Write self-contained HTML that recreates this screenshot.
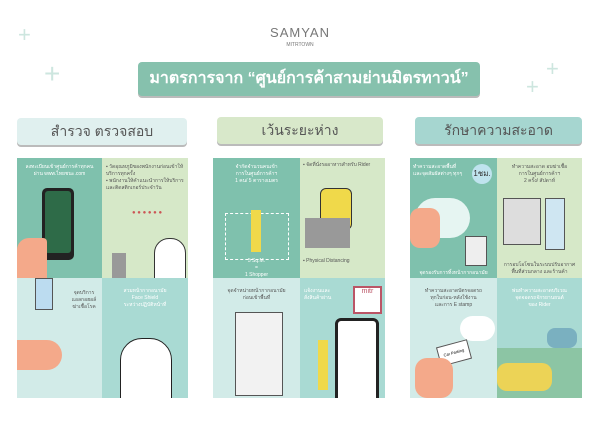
<!DOCTYPE html>
<html><head><meta charset="utf-8"><style>
body{margin:0;width:600px;height:424px;background:#fff;position:relative;overflow:hidden;font-family:"Liberation Sans","Noto Sans CJK SC",sans-serif}
.a{position:absolute}
.p{position:absolute;overflow:hidden}
.t{position:absolute;font-size:5px;color:#fff;text-align:center;line-height:7px}
.h{position:absolute;height:27px;border-radius:4px;box-shadow:0 2px 0 #bbb;text-align:center;font-size:14px;line-height:27px;color:#555;font-weight:normal}
.plus{position:absolute;color:#cde6df;font-size:22px;font-weight:300}
</style></head><body>
<div class="a" style="left:0;top:25px;width:600px;text-align:center;font-size:13px;color:#777;letter-spacing:1px">SAMYAN</div>
<div class="a" style="left:0;top:42px;width:600px;text-align:center;font-size:5px;color:#777">MITRTOWN</div>
<div class="plus" style="left:18px;top:22px">+</div>
<div class="plus" style="left:44px;top:58px;font-size:28px">+</div>
<div class="plus" style="left:526px;top:74px">+</div>
<div class="plus" style="left:546px;top:56px">+</div>
<div class="h" style="left:138px;top:62px;width:342px;height:34px;line-height:34px;background:#86c1ad;color:#fff;font-size:16px;font-weight:bold">มาตรการจาก “ศูนย์การค้าสามย่านมิตรทาวน์”</div>
<div class="h" style="left:17px;top:118px;width:170px;background:#e0f0ef">สำรวจ ตรวจสอบ</div>
<div class="h" style="left:217px;top:117px;width:166px;background:#d8e8ca">เว้นระยะห่าง</div>
<div class="h" style="left:415px;top:117px;width:167px;background:#a6d6d0">รักษาความสะอาด</div>

<div class="p" style="left:17px;top:158px;width:85px;height:120px;background:#7fc1ad">
<div class="t" style="left:0;top:6px;width:85px">ลงทะเบียนเข้าศูนย์การค้าทุกคน<br>ผ่าน www.ไทยชนะ.com</div>
<div class="a" style="left:25px;top:30px;width:32px;height:72px;background:#222;border-radius:5px"><div style="margin:3px;height:62px;background:#2e6b48;border-radius:3px"></div></div>
<div class="a" style="left:0;top:80px;width:30px;height:40px;background:#f4a98a;border-radius:12px 4px 0 0"></div></div>
<div class="p" style="left:102px;top:158px;width:86px;height:120px;background:#d6e8c8">
<div class="t" style="left:4px;top:6px;width:80px;color:#555;text-align:left">▪ วัดอุณหภูมิของพนักงานก่อนเข้าให้บริการทุกครั้ง<br>▪ พนักงานให้คำแนะนำการให้บริการและติดสติกเกอร์ประจำวัน</div>
<div class="a" style="left:30px;top:52px;font-size:6px;color:#c55">● ● ● ● ● ●</div>
<div class="a" style="left:52px;top:80px;width:30px;height:45px;background:#fff;border:1px solid #333;border-radius:15px 15px 0 0"></div>
<div class="a" style="left:10px;top:95px;width:14px;height:25px;background:#999"></div></div>
<div class="p" style="left:17px;top:278px;width:85px;height:120px;background:#d2ebe8">
<div class="a" style="left:18px;top:0;width:16px;height:30px;background:#bcdcf0;border:1px solid #555"></div>
<div class="t" style="left:50px;top:12px;width:34px;color:#555">จุดบริการ<br>แอลกอฮอล์<br>ฆ่าเชื้อโรค</div>
<div class="a" style="left:0;top:62px;width:45px;height:30px;background:#f4a98a;border-radius:0 20px 20px 0"></div></div>
<div class="p" style="left:102px;top:278px;width:86px;height:120px;background:#a9dad3">
<div class="t" style="left:0;top:10px;width:86px">สวมหน้ากากอนามัย<br>Face Shield<br>ระหว่างปฏิบัติหน้าที่</div>
<div class="a" style="left:18px;top:60px;width:50px;height:60px;background:#fff;border:1px solid #222;border-radius:22px 22px 0 0"></div></div>

<div class="p" style="left:213px;top:158px;width:87px;height:120px;background:#7fc1ad">
<div class="t" style="left:0;top:6px;width:87px">จำกัดจำนวนคนเข้า<br>การในศูนย์การค้าฯ<br>1 คน/ 5 ตารางเมตร</div>
<div class="a" style="left:12px;top:55px;width:62px;height:45px;border:1px dashed #fff"></div>
<div class="a" style="left:38px;top:52px;width:10px;height:42px;background:#f0d94a"></div>
<div class="t" style="left:0;top:100px;width:87px">5 Sq.M.<br>=<br>1 Shopper</div></div>
<div class="p" style="left:300px;top:158px;width:85px;height:120px;background:#d6e8c8">
<div class="t" style="left:3px;top:4px;width:80px;color:#555;text-align:left">▪ จัดที่นั่งรออาหารสำหรับ Rider</div>
<div class="a" style="left:20px;top:30px;width:30px;height:40px;background:#f0d94a;border:1px solid #333;border-radius:6px"></div>
<div class="a" style="left:5px;top:60px;width:45px;height:30px;background:#999"></div>
<div class="t" style="left:3px;top:100px;width:80px;color:#555;text-align:left">▪ Physical Distancing</div></div>
<div class="p" style="left:213px;top:278px;width:87px;height:120px;background:#d2ebe8">
<div class="t" style="left:0;top:10px;width:87px;color:#555">จุดจำหน่ายหน้ากากอนามัย<br>ก่อนเข้าพื้นที่</div>
<div class="a" style="left:22px;top:34px;width:46px;height:82px;background:#f2f2f2;border:1px solid #555"></div></div>
<div class="p" style="left:300px;top:278px;width:85px;height:120px;background:#a9dad3">
<div class="t" style="left:4px;top:10px;width:30px;text-align:left">แจ้งงานและ<br>สั่งสินค้าผ่าน</div>
<div class="a" style="left:53px;top:8px;width:25px;height:24px;background:#fff;border:2px solid #b56;font-size:7px;color:#b56;text-align:center">mitr</div>
<div class="a" style="left:35px;top:40px;width:38px;height:80px;background:#fff;border:3px solid #222;border-radius:6px"></div>
<div class="a" style="left:18px;top:62px;width:10px;height:50px;background:#f0d94a"></div></div>

<div class="p" style="left:410px;top:158px;width:87px;height:120px;background:#7fc1ad">
<div class="t" style="left:3px;top:6px;width:60px;text-align:left">ทำความสะอาดพื้นที่<br>และจุดสัมผัสต่างๆ ทุกๆ</div>
<div class="a" style="left:62px;top:6px;width:20px;height:20px;border-radius:50%;background:#bfe3ee;font-size:8px;line-height:20px;text-align:center;color:#333">1ชม.</div>
<div class="a" style="left:5px;top:40px;width:55px;height:40px;background:#e6f5f2;border-radius:20px"></div>
<div class="a" style="left:0;top:50px;width:30px;height:40px;background:#f4a98a;border-radius:10px"></div>
<div class="a" style="left:55px;top:78px;width:20px;height:28px;background:#eee;border:1px solid #555"></div>
<div class="t" style="left:0;top:112px;width:87px">จุดรองรับการทิ้งหน้ากากอนามัย</div></div>
<div class="p" style="left:497px;top:158px;width:85px;height:120px;background:#d6e8c8">
<div class="t" style="left:0;top:6px;width:85px;color:#555">ทำความสะอาด อบฆ่าเชื้อ<br>การในศูนย์การค้าฯ<br>2 ครั้ง/ สัปดาห์</div>
<div class="a" style="left:6px;top:40px;width:36px;height:45px;background:#ddd;border:1px solid #555"></div>
<div class="a" style="left:48px;top:40px;width:18px;height:50px;background:#cfe6f2;border:1px solid #555"></div>
<div class="t" style="left:0;top:104px;width:85px;color:#555">การอบโอโซนในระบบปรับอากาศ<br>พื้นที่ส่วนกลาง และร้านค้า</div></div>
<div class="p" style="left:410px;top:278px;width:87px;height:120px;background:#d2ebe8">
<div class="t" style="left:0;top:10px;width:87px;color:#555">ทำความสะอาดบัตรจอดรถ<br>ทุกใบก่อน-หลังใช้งาน<br>และการ E stamp</div>
<div class="a" style="left:50px;top:38px;width:35px;height:25px;background:#fff;border-radius:14px"></div>
<div class="a" style="left:28px;top:65px;width:30px;height:18px;background:#fff;border:1px solid #555;transform:rotate(-15deg);font-size:4px;text-align:center;line-height:18px">Car Parking</div>
<div class="a" style="left:5px;top:80px;width:38px;height:40px;background:#f4a98a;border-radius:12px"></div></div>
<div class="p" style="left:497px;top:278px;width:85px;height:120px;background:#a9dad3">
<div class="t" style="left:0;top:10px;width:85px">พ่นทำความสะอาดบริเวณ<br>จุดจอดรถจักรยานยนต์<br>ของ Rider</div>
<div class="a" style="left:0;top:70px;width:85px;height:50px;background:#8cc5a4"></div>
<div class="a" style="left:0;top:85px;width:55px;height:28px;background:#ecd356;border-radius:10px"></div>
<div class="a" style="left:50px;top:50px;width:30px;height:20px;background:#7ab0c0;border-radius:8px"></div></div>
</body></html>
